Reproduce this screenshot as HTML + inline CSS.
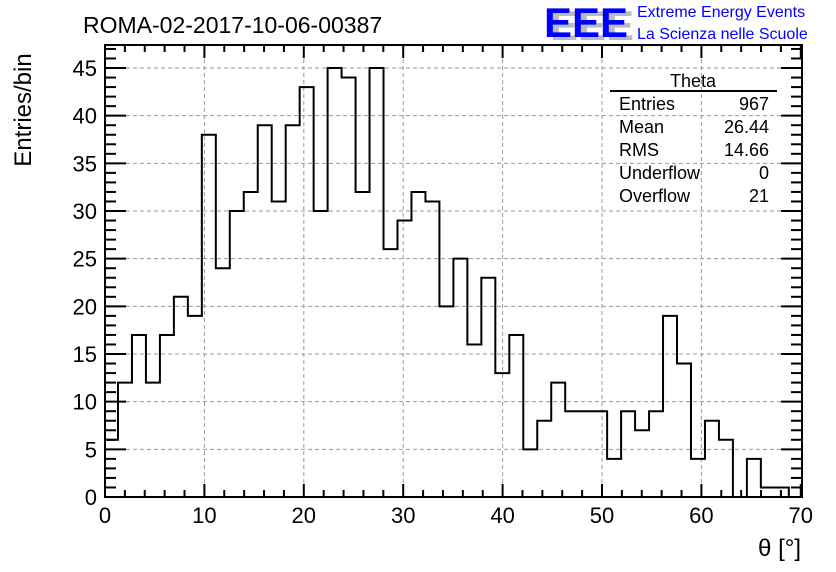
<!DOCTYPE html>
<html><head><meta charset="utf-8"><style>
body{margin:0;background:#fff}
svg{display:block;font-family:"Liberation Sans",sans-serif}
</style></head><body>
<svg id="c" width="836" height="572" viewBox="0 0 836 572">
<text x="83" y="33" font-size="23">ROMA-02-2017-10-06-00387</text>
<g>
<text x="550" y="40" font-size="42" font-weight="bold" fill="#bbb" textLength="84" lengthAdjust="spacingAndGlyphs">EEE</text>
<text x="544" y="37" font-size="42" font-weight="bold" fill="#00f" textLength="84" lengthAdjust="spacingAndGlyphs">EEE</text>
<text x="637" y="17" font-size="16" fill="#00f">Extreme Energy Events</text>
<text x="637" y="39" font-size="16" fill="#00f">La Scienza nelle Scuole</text>
</g>
<g id="grid"></g>
<g id="ticks"></g>
<path id="hist" fill="none" stroke="#000" stroke-width="2"/>
<rect x="105" y="45" width="697" height="452" fill="none" stroke="#000" stroke-width="2"/>
<g id="labels" font-size="22"></g>
<text transform="translate(31,110) rotate(-90)" text-anchor="middle" font-size="24">Entries/bin</text>
<text x="801" y="556" text-anchor="end" font-size="24">θ [°]</text>
<g font-size="18">
<text x="693" y="87" text-anchor="middle">Theta</text>
<line x1="610" y1="91" x2="777" y2="91" stroke="#000" stroke-width="2"/>
<text x="619" y="110">Entries</text><text x="769" y="110" text-anchor="end">967</text>
<text x="619" y="133">Mean</text><text x="769" y="133" text-anchor="end">26.44</text>
<text x="619" y="156">RMS</text><text x="769" y="156" text-anchor="end">14.66</text>
<text x="619" y="179">Underflow</text><text x="769" y="179" text-anchor="end">0</text>
<text x="619" y="202">Overflow</text><text x="769" y="202" text-anchor="end">21</text>
</g>
</svg>
<script>
const counts=[6,12,17,12,17,21,19,38,24,30,32,39,31,39,43,30,45,44,32,45,26,29,32,31,20,25,16,23,13,17,5,8,12,9,9,9,4,9,7,9,19,14,4,8,6,0,4,1,1];
const binStart=-0.1, binWidth=1.406;
const xTicks=[0,10,20,30,40,50,60,70];
const yTicks=[0,5,10,15,20,25,30,35,40,45];
const X=v=>105+v*9.94, Y=v=>497-v*9.533;
const NS="http://www.w3.org/2000/svg";
function mk(t,a,p){const e=document.createElementNS(NS,t);for(const k in a)e.setAttribute(k,a[k]);p.appendChild(e);return e;}
const grid=document.getElementById('grid'),ticks=document.getElementById('ticks'),labels=document.getElementById('labels');
xTicks.forEach(v=>{
 if(v>0&&v<70){const g=mk('line',{x1:X(v),x2:X(v),y1:45,y2:497,stroke:'#999','stroke-dasharray':'4,3'},grid);
 
 }
 const t=mk('text',{x:X(v),y:523,'text-anchor':'middle'},labels);t.textContent=v;
 
 
});
for(let v=0;v<=70;v+=2){const L=v%10==0?13:7;
 mk('line',{x1:X(v),x2:X(v),y1:497,y2:497-L,stroke:'#000','stroke-width':2},ticks);
 mk('line',{x1:X(v),x2:X(v),y1:45,y2:45+L,stroke:'#000','stroke-width':2},ticks);}
yTicks.forEach(v=>{
 if(v>0){const g=mk('line',{x1:105,x2:802,y1:Y(v),y2:Y(v),stroke:'#999','stroke-dasharray':'4,3'},grid);
 
 }
 const t=mk('text',{x:97,y:Y(v)+8,'text-anchor':'end'},labels);t.textContent=v;
 
 
});
for(let v=0;v<=47;v++){const L=v%5==0?21:11;
 mk('line',{x1:105,x2:105+L,y1:Y(v),y2:Y(v),stroke:'#000','stroke-width':2},ticks);
 mk('line',{x1:802,x2:802-L,y1:Y(v),y2:Y(v),stroke:'#000','stroke-width':2},ticks);}
let d='';
counts.forEach((c,i)=>{const a=Math.max(0,binStart+i*binWidth),b=binStart+(i+1)*binWidth;
 d+=(i==0?'M'+X(a)+','+Y(0)+'L':'L')+X(a)+','+Y(c)+'L'+X(b)+','+Y(c);});
d+='L'+X(binStart+counts.length*binWidth)+','+Y(0);
document.getElementById('hist').setAttribute('d',d);
</script>
</body></html>
